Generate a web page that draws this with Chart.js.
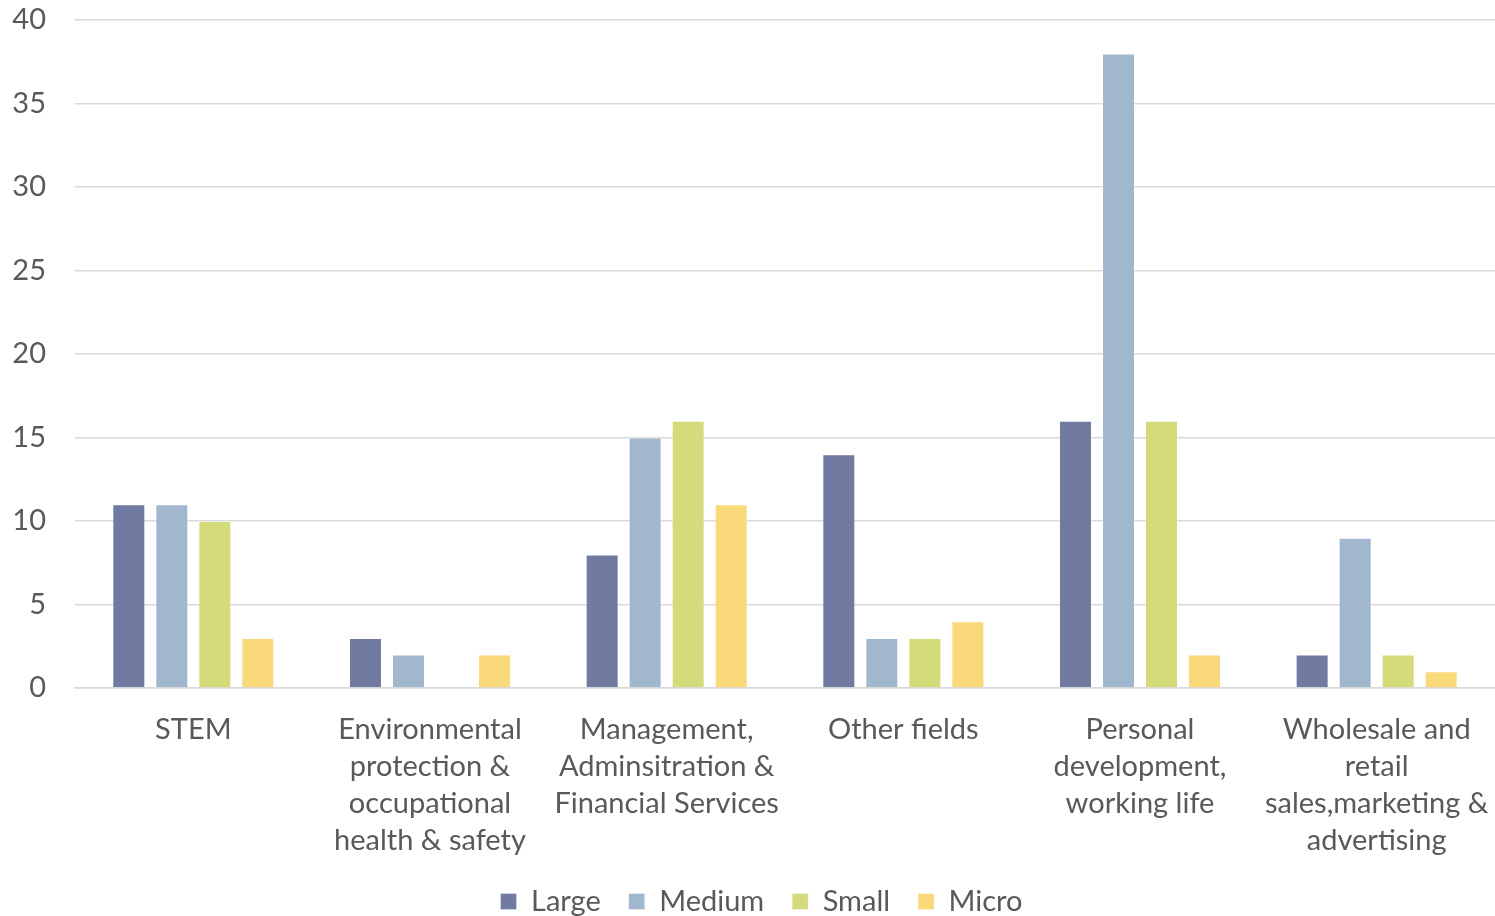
<!DOCTYPE html>
<html>
<head>
<meta charset="utf-8">
<script src="https://cdn.jsdelivr.net/npm/chart.js@4"></script>
<style>
html,body{margin:0;padding:0;background:#fff;}
#wrap{width:1495px;height:916px;position:relative;}
</style>
</head>
<body>
<div id="wrap"><canvas id="c" width="1495" height="916"></canvas></div>
<script>
const categories = [
  ["STEM"],
  ["Environmental", "protection &", "occupational", "health & safety"],
  ["Management,", "Adminsitration &", "Financial Services"],
  ["Other fields"],
  ["Personal", "development,", "working life"],
  ["Wholesale and", "retail", "sales,marketing &", "advertising"]
];
const seriesNames = ["Large", "Medium", "Small", "Micro"];
const large  = [11, 3, 8, 14, 16, 2];
const medium = [11, 2, 15, 3, 38, 9];
const small  = [10, 0, 16, 3, 16, 2];
const micro  = [3, 2, 11, 4, 2, 1];
const colors = ["#717AA1", "#A1B7CE", "#D4DB7A", "#FAD97A"];
const yMin = 0, yMax = 40, yStep = 5;

const FONT = "Lato, 'Open Sans', sans-serif";
const TEXT = "#595959";

const values = [large, medium, small, micro];
const datasets = seriesNames.map((n, i) => ({
  label: n,
  data: values[i],
  backgroundColor: colors[i],
  borderColor: "rgba(255,255,255,0.35)",
  borderWidth: 1,
  categoryPercentage: 0.727,
  barPercentage: 0.767
}));

const legendShift = {
  id: "legendShift",
  afterLayout(chart) {
    const lg = chart.legend;
    if (lg) { lg.left += 14; lg.right += 14; }
  }
};

new Chart(document.getElementById("c"), {
  type: "bar",
  data: { labels: categories, datasets },
  plugins: [legendShift],
  options: {
    responsive: false,
    animation: false,
    devicePixelRatio: 1,
    layout: { padding: { top: 20, right: 0, left: 0, bottom: -10 } },
    plugins: {
      legend: {
        position: "bottom",
        labels: {
          font: { family: FONT, size: 29 },
          color: TEXT,
          boxWidth: 16,
          boxHeight: 16,
          padding: 28
        }
      },
      tooltip: { enabled: false }
    },
    scales: {
      x: {
        grid: { display: false },
        border: { display: true, color: "#d9d9d9", width: 1.5 },
        ticks: {
          font: { family: FONT, size: 29, lineHeight: 1.28 },
          color: TEXT,
          maxRotation: 0,
          autoSkip: false,
          padding: 15
        },
        afterFit: s => { s.height = 171; s.paddingLeft = 0; s.paddingRight = 0; }
      },
      y: {
        min: yMin, max: yMax,
        grid: { color: "#d9d9d9", lineWidth: 1.5, drawTicks: false },
        border: { display: false },
        ticks: {
          stepSize: yStep,
          font: { family: FONT, size: 29 },
          color: TEXT,
          padding: 29
        },
        afterFit: s => { s.width = 75; s.paddingTop = 0; s.paddingBottom = 0; }
      }
    }
  }
});
</script>
</body>
</html>
